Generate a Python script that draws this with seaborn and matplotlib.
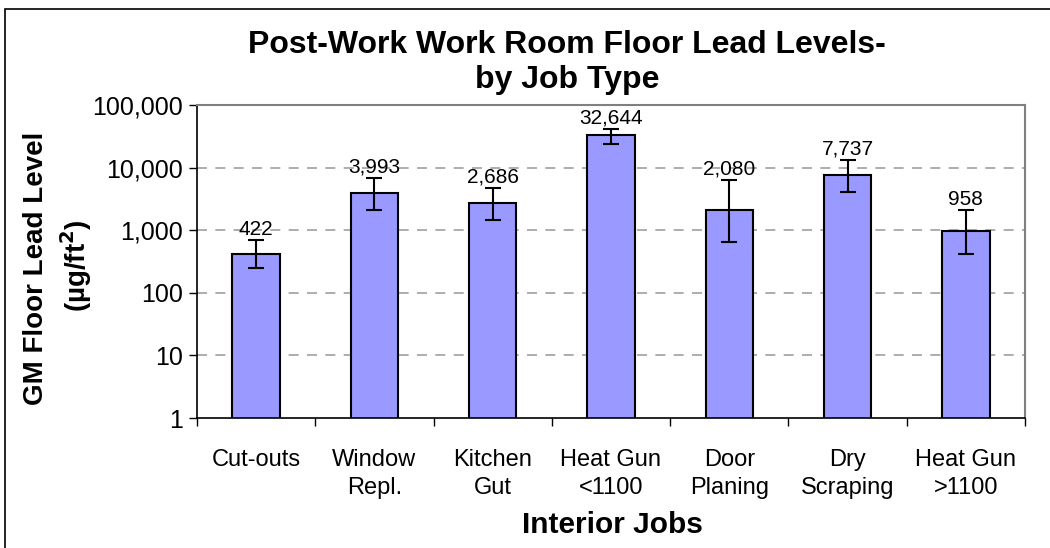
import matplotlib
matplotlib.use("Agg")
import matplotlib.pyplot as plt
import matplotlib.ticker as mticker
from matplotlib.patches import Rectangle
import seaborn as sns
import pandas as pd
import numpy as np

categories = ["Cut-outs", "Window\nRepl.", "Kitchen\nGut", "Heat Gun\n<1100",
              "Door\nPlaning", "Dry\nScraping", "Heat Gun\n>1100"]
gm_values = [422, 3993, 2686, 32644, 2080, 7737, 958]
err_upper = [700, 6800, 4700, 42000, 6300, 13200, 2100]
err_lower = [250, 2100, 1460, 24200, 650, 4100, 415]
y_ticks = [1, 10, 100, 1000, 10000, 100000]

sns.set_theme(style="white")
plt.rcParams['font.family'] = ['Liberation Sans', 'DejaVu Sans']
plt.rcParams['text.color'] = 'black'
plt.rcParams['axes.labelcolor'] = 'black'
plt.rcParams['xtick.color'] = 'black'
plt.rcParams['ytick.color'] = 'black'

df = pd.DataFrame({"job": categories, "gm": gm_values})

fig = plt.figure(figsize=(10.5, 5.48), dpi=100)
fig.patch.set_facecolor("white")
ax = fig.add_axes([197/1050, 1-418/548, (1025-197)/1050, (418-105)/548])

sns.barplot(data=df, x="job", y="gm", color="#9999FF", saturation=1,
            width=0.4, edgecolor="black", linewidth=1.5, ax=ax, errorbar=None)
ax.set_yscale("log")
ax.set_ylim(1, 100000)
ax.set_xlim(-0.5, len(categories) - 0.5)

xs = np.arange(len(categories))
vals = np.array(gm_values, dtype=float)
yerr = np.vstack([vals - np.array(err_lower), np.array(err_upper) - vals])
ax.errorbar(xs, vals, yerr=yerr, fmt="none", ecolor="black", elinewidth=1.5,
            capsize=5.5, capthick=1.5, zorder=5)

for x, v, up in zip(xs, gm_values, err_upper):
    ax.annotate(f"{v:,}", (x, up), xytext=(0, 1), textcoords="offset points",
                ha="center", va="bottom", fontsize=15, color="black", zorder=6)

ax.set_yticks(y_ticks)
ax.yaxis.set_major_formatter(mticker.FuncFormatter(lambda v, p: f"{int(round(v)):,}"))
ax.yaxis.set_minor_locator(mticker.NullLocator())
ax.tick_params(axis="y", which="major", direction="out", length=6, width=1,
               color="black", labelcolor="black", labelsize=18, pad=4, left=True)

ax.set_xticks(xs)
ax.set_xticklabels(categories, fontsize=17, linespacing=1.35, color="black")
ax.tick_params(axis="x", which="major", length=0, pad=22)
ax.set_xticks(np.arange(-0.5, len(categories), 1.0), minor=True)
ax.tick_params(axis="x", which="minor", direction="out", length=6, width=1,
               color="black", bottom=True)

for yv in y_ticks[1:-1]:
    ax.axhline(yv, color="#A0A0A0", lw=1.2, ls=(0, (6, 5)), zorder=0)
ax.grid(False)

for side in ["left", "bottom"]:
    ax.spines[side].set_color("black")
    ax.spines[side].set_linewidth(1.2)
for side in ["top", "right"]:
    ax.spines[side].set_color("#808080")
    ax.spines[side].set_linewidth(1.5)

ax.set_xlabel("")
ax.set_ylabel("")

fig.text(567/1050, 1-45/548, "Post-Work Work Room Floor Lead Levels-",
         ha="center", va="center", fontsize=23, fontweight="bold", color="black")
fig.text(567/1050, 1-80/548, "by Job Type",
         ha="center", va="center", fontsize=23, fontweight="bold", color="black")
fig.text(612/1050, 1-525/548, "Interior Jobs", ha="center", va="center",
         fontsize=21.5, fontweight="bold", color="black")
fig.text(36/1050, 1-268/548, "GM Floor Lead Level", ha="center", va="center",
         rotation=90, fontsize=20, fontweight="bold", color="black")
fig.text(76/1050, 1-266/548, "(µg/ft$^\\mathbf{2}$)", ha="center", va="center",
         rotation=90, fontsize=20, fontweight="bold", color="black")

fig.patches.append(Rectangle((5/1050, -0.1), 1.2, (548-9)/548 + 0.1,
                             transform=fig.transFigure, fill=False,
                             edgecolor="black", lw=1.2))

fig.savefig("out.png", dpi=100, facecolor="white")
